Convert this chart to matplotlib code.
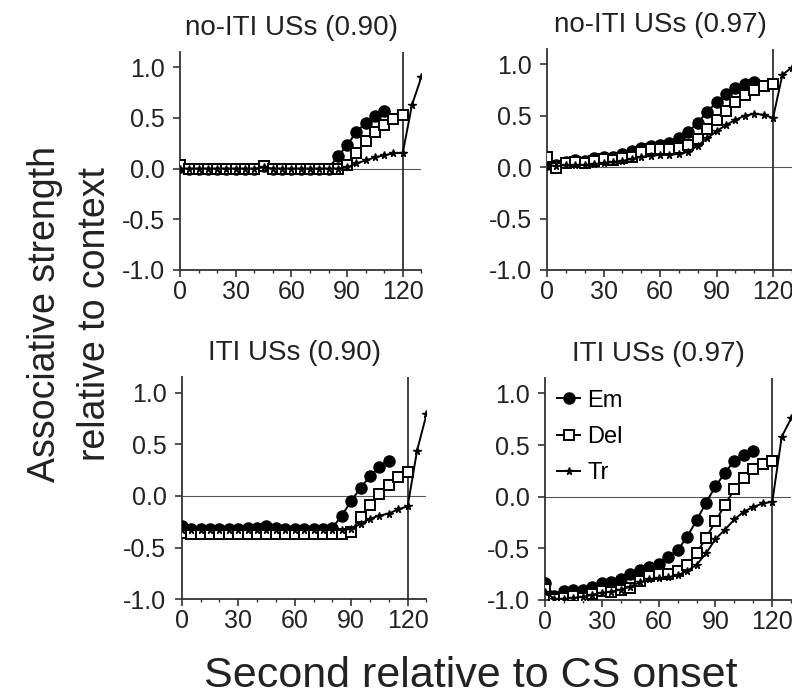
import numpy as np
import matplotlib
matplotlib.use('Agg')
import matplotlib.pyplot as plt

plt.rcParams['font.family'] = ['Liberation Sans', 'DejaVu Sans']
plt.rcParams['axes.unicode_minus'] = False

# time points (s relative to CS onset)
t_em = np.arange(0, 111, 5)
t_del = np.arange(0, 121, 5)
t_tr = np.arange(0, 131, 5)

titles = ['no-ITI USs (0.90)', 'no-ITI USs (0.97)', 'ITI USs (0.90)', 'ITI USs (0.97)']

# no-ITI USs (0.90)
em_a = [0.01, 0.0, 0.0, 0.0, 0.0, 0.0, 0.0, 0.0, 0.0, 0.02, 0.0, 0.0, 0.0, 0.0, 0.0, 0.0,
        0.0, 0.12, 0.23, 0.36, 0.45, 0.52, 0.57]
del_a = [0.03, 0.0, 0.0, 0.0, 0.0, 0.0, 0.0, 0.0, 0.0, 0.02, 0.0, 0.0, 0.0, 0.0, 0.0, 0.0,
         0.0, 0.0, 0.03, 0.15, 0.27, 0.36, 0.43, 0.49, 0.53]
tr_a = [0.0, 0.0, 0.0, 0.0, 0.0, 0.0, 0.0, 0.0, 0.0, 0.01, 0.0, 0.0, 0.0, 0.0, 0.0, 0.0,
        0.0, 0.0, 0.01, 0.05, 0.08, 0.11, 0.13, 0.15, 0.155, 0.63, 0.90]

# no-ITI USs (0.97)
em_b = [0.03, 0.02, 0.055, 0.07, 0.065, 0.09, 0.097, 0.10, 0.13, 0.16, 0.19, 0.207, 0.217,
        0.233, 0.28, 0.347, 0.43, 0.54, 0.63, 0.71, 0.77, 0.81, 0.83]
del_b = [0.10, -0.01, 0.045, 0.052, 0.039, 0.065, 0.078, 0.071, 0.09, 0.10, 0.146, 0.175,
         0.18, 0.18, 0.19, 0.22, 0.27, 0.37, 0.46, 0.55, 0.63, 0.70, 0.75, 0.79, 0.81]
tr_b = [0.02, 0.01, 0.02, 0.02, 0.02, 0.03, 0.04, 0.05, 0.06, 0.08, 0.10, 0.11, 0.12, 0.12,
        0.13, 0.15, 0.21, 0.28, 0.35, 0.41, 0.46, 0.50, 0.52, 0.51, 0.48, 0.90, 0.97]

# ITI USs (0.90)
em_c = [-0.29, -0.32, -0.32, -0.32, -0.32, -0.32, -0.32, -0.31, -0.31, -0.29, -0.31, -0.32,
        -0.32, -0.32, -0.32, -0.32, -0.31, -0.19, -0.05, 0.08, 0.19, 0.28, 0.34]
del_c = [-0.36, -0.37, -0.37, -0.37, -0.37, -0.37, -0.37, -0.37, -0.37, -0.37, -0.37, -0.37,
         -0.37, -0.37, -0.37, -0.37, -0.37, -0.37, -0.35, -0.20, -0.09, 0.02, 0.11, 0.18, 0.23]
tr_c = [-0.33, -0.33, -0.33, -0.33, -0.33, -0.33, -0.33, -0.33, -0.33, -0.33, -0.33, -0.33,
        -0.33, -0.33, -0.33, -0.33, -0.33, -0.33, -0.32, -0.27, -0.22, -0.19, -0.17, -0.13,
        -0.10, 0.44, 0.79]

# ITI USs (0.97)
em_d = [-0.84, -0.96, -0.91, -0.90, -0.90, -0.87, -0.84, -0.83, -0.80, -0.75, -0.71, -0.68,
        -0.65, -0.58, -0.52, -0.39, -0.23, -0.06, 0.10, 0.23, 0.35, 0.40, 0.44]
del_d = [-0.89, -0.99, -0.98, -0.96, -0.98, -0.94, -0.91, -0.92, -0.90, -0.88, -0.82, -0.77,
         -0.75, -0.75, -0.72, -0.66, -0.55, -0.40, -0.24, -0.08, 0.07, 0.18, 0.27, 0.32, 0.35]
tr_d = [-0.92, -0.99, -0.99, -0.98, -0.97, -0.95, -0.93, -0.92, -0.90, -0.87, -0.83, -0.80,
        -0.79, -0.78, -0.76, -0.72, -0.66, -0.55, -0.41, -0.32, -0.22, -0.145, -0.10, -0.065,
        -0.05, 0.58, 0.76]

panels = [(em_a, del_a, tr_a), (em_b, del_b, tr_b), (em_c, del_c, tr_c), (em_d, del_d, tr_d)]

# axes rectangles [left, bottom, width, height] in figure fraction
rects = [[0.2273, 0.6143, 0.3047, 0.3117],
         [0.6907, 0.6143, 0.3091, 0.3157],
         [0.2294, 0.1439, 0.3091, 0.3173],
         [0.6881, 0.1429, 0.3109, 0.3173]]

fig = plt.figure(figsize=(7.92, 7.0), dpi=100)
ink = '#222222'

for i, (em, de, tr) in enumerate(panels):
    ax = fig.add_axes(rects[i])
    ax.axhline(0, color='#555555', lw=0.8, zorder=1)
    ax.axvline(120, color='#333333', lw=1.3, zorder=1)
    ax.plot(t_em, em, '-o', color='black', lw=1.4, ms=8, zorder=3, label='Em')
    ax.plot(t_del, de, '-s', color='black', lw=1.4, ms=7.5, mfc='white', mew=1.4,
            zorder=4, label='Del')
    ax.plot(t_tr, tr, '-*', color='black', lw=1.4, ms=5.5, zorder=5, label='Tr')
    ax.set_xlim(0, 130)
    ax.set_ylim(-1, 1.15)
    ax.set_xticks([0, 30, 60, 90, 120])
    ax.set_xticks(np.arange(0, 131, 10), minor=True)
    ax.set_yticks([-1, -0.5, 0, 0.5, 1.0])
    ax.set_yticklabels(['-1.0', '-0.5', '0.0', '0.5', '1.0'])
    for s in ['top', 'right']:
        ax.spines[s].set_visible(False)
    for s in ['left', 'bottom']:
        ax.spines[s].set_color('#333333')
        ax.spines[s].set_linewidth(1.3)
    ax.tick_params(which='major', length=5, width=1.2, color='#333333',
                   labelsize=18, labelcolor=ink)
    ax.tick_params(axis='y', pad=6)
    ax.tick_params(axis='x', pad=2)
    ax.tick_params(which='minor', length=2.5, width=1.0, color='#333333')
    ax.set_title(titles[i], fontsize=20, color=ink, x=60 / 130, pad=12)
    if i == 3:
        ax.legend(loc='upper left', frameon=False, fontsize=17, handlelength=1.0,
                  handletextpad=0.3, labelspacing=0.6, borderaxespad=0.1,
                  bbox_to_anchor=(0.0, 1.0))

fig.text(0.088, 0.551, 'Associative strength\nrelative to context', rotation=90,
         ha='center', va='center', fontsize=27, color=ink, linespacing=1.5)
fig.text(0.595, 0.034, 'Second relative to CS onset', ha='center', va='center',
         fontsize=31, color=ink)

fig.savefig('out.png', dpi=100)
